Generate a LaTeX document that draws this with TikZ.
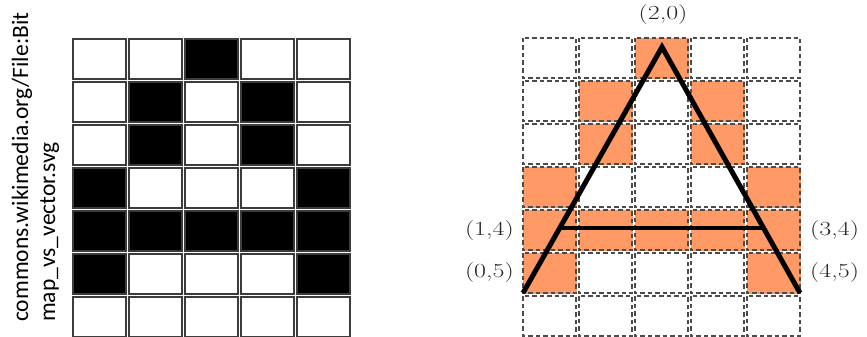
\documentclass[tikz,border=0pt]{standalone}
\usepackage{fontspec}
\newfontfamily\carlito{Carlito}
\definecolor{pix}{RGB}{255,153,102}
\definecolor{cellline}{RGB}{60,60,60}
\definecolor{dashline}{RGB}{75,75,75}
\tikzset{
  bitcell/.style={draw=cellline, line width=1.7pt},
  vcell/.style={draw=dashline, dash pattern=on 4.5pt off 3pt, line width=1.4pt},
  lbl/.style={font=\fontsize{20}{22}\selectfont, inner sep=0pt, text=black!85},
  src/.style={font=\carlito\fontsize{23.5}{27}\selectfont, inner sep=0pt, rotate=90, anchor=base west},
  glyph/.style={line width=5pt, line join=miter, line cap=butt},
  bar/.style={line width=3.2pt}
}
\begin{document}
\begin{tikzpicture}[x=1pt,y=-1pt]
\useasboundingbox (0,0) rectangle (867,337);
\clip (0,0) rectangle (867,337);
% left bitmap grid
\foreach \r in {0,...,6}{
  \foreach \c in {0,...,4}{
    \draw[bitcell] ({73+56*\c},{39+43*\r}) rectangle ++(53,40);
  }
}
\foreach \c/\r in {2/0,1/1,3/1,1/2,3/2,0/3,4/3,0/4,1/4,2/4,3/4,4/4,0/5,4/5}{
  \draw[bitcell,fill=black] ({73+56*\c},{39+43*\r}) rectangle ++(53,40);
}
% right vector grid
\foreach \c/\r in {2/0,1/1,3/1,1/2,3/2,0/3,4/3,0/4,1/4,2/4,3/4,4/4,0/5,4/5}{
  \fill[pix] ({523+56*\c},{38+43*\r}) rectangle ++(54,41);
}
\foreach \r in {0,...,6}{
  \foreach \c in {0,...,4}{
    \draw[vcell] ({523+56*\c},{38+43*\r}) rectangle ++(53,40);
  }
}
% vector glyph
\coordinate (p05) at (523,293);
\coordinate (p20) at (662,47);
\coordinate (p45) at (800,293);
\coordinate (p14) at (562,228);
\coordinate (p34) at (762,228);
\draw[glyph] (p05) -- (p20) -- (p45);
\draw[bar] (p14) -- (p34);
% labels
\node[lbl] (l20) at (663,15) {\scalebox{1.3}[1]{(2,0)}};
\node[lbl,anchor=east] (l14) at (514,231) {\scalebox{1.3}[1]{(1,4)}};
\node[lbl,anchor=east] (l05) at (514,273) {\scalebox{1.3}[1]{(0,5)}};
\node[lbl,anchor=west] (l34) at (810,231) {\scalebox{1.3}[1]{(3,4)}};
\node[lbl,anchor=west] (l45) at (810,273) {\scalebox{1.3}[1]{(4,5)}};
% source note
\node[src] (s1) at (28,322) {commons.wikimedia.org/File:Bit};
\node[src] (s2) at (55,322) {map\_vs\_vector.svg};
\end{tikzpicture}
\end{document}
